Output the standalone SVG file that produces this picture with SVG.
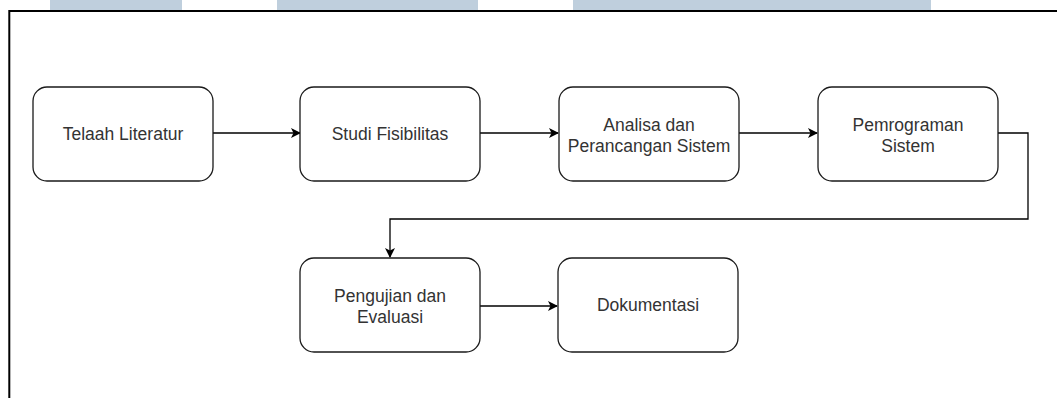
<svg xmlns="http://www.w3.org/2000/svg" width="1057" height="398" viewBox="0 0 1057 398">
  <style>
    .box { fill: #ffffff; stroke: #1a1a1a; stroke-width: 1.3; }
    .lbl { font-family: "Liberation Sans", Arial, sans-serif; font-size: 17.5px; fill: #333333; text-anchor: middle; }
    .edge { fill: none; stroke: #000000; stroke-width: 1.3; marker-end: url(#arrow); }
    .band { fill: #bfcfdd; }
  </style>
  <defs>
    <marker id="arrow" viewBox="0 0 10 10" refX="9" refY="5" markerWidth="10" markerHeight="10" markerUnits="userSpaceOnUse" orient="auto">
      <path d="M0,0 L10,5 L0,10 L2.5,5 Z" fill="#000000"/>
    </marker>
  </defs>

  <rect width="1057" height="398" fill="#ffffff"/>

  <!-- header bands -->
  <g id="header">
    <rect class="band" x="50" y="0" width="132" height="10"/>
    <rect class="band" x="277" y="0" width="201" height="10"/>
    <rect class="band" x="573" y="0" width="358" height="10"/>
  </g>

  <!-- outer frame -->
  <path d="M9.3,398 V11 H1057" fill="none" stroke="#000000" stroke-width="2"/>

  <!-- connectors -->
  <g id="connectors">
    <path class="edge" d="M213,133 H300"/>
    <path class="edge" d="M480,133 H558"/>
    <path class="edge" d="M739,133 H817"/>
    <path class="edge" d="M998,133 H1028 V219 H390 V257"/>
    <path class="edge" d="M480,306 H557"/>
  </g>

  <g id="n1">
    <rect class="box" x="33" y="87" width="180" height="94" rx="14"/>
    <text class="lbl" x="123" y="140">Telaah Literatur</text>
  </g>
  <g id="n2">
    <rect class="box" x="300" y="87" width="180" height="94" rx="14"/>
    <text class="lbl" x="390" y="140">Studi Fisibilitas</text>
  </g>
  <g id="n3">
    <rect class="box" x="559" y="87" width="180" height="94" rx="14"/>
    <text class="lbl" x="649" y="131">Analisa dan</text>
    <text class="lbl" x="649" y="152">Perancangan Sistem</text>
  </g>
  <g id="n4">
    <rect class="box" x="818" y="87" width="180" height="94" rx="14"/>
    <text class="lbl" x="908" y="131">Pemrograman</text>
    <text class="lbl" x="908" y="152">Sistem</text>
  </g>
  <g id="n5">
    <rect class="box" x="300" y="258" width="180" height="94" rx="14"/>
    <text class="lbl" x="390" y="302">Pengujian dan</text>
    <text class="lbl" x="390" y="323">Evaluasi</text>
  </g>
  <g id="n6">
    <rect class="box" x="558" y="258" width="180" height="94" rx="14"/>
    <text class="lbl" x="648" y="311">Dokumentasi</text>
  </g>
</svg>
